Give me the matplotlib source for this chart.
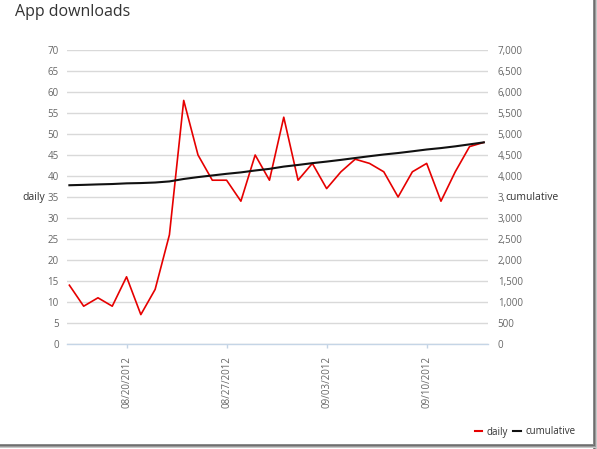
import matplotlib
matplotlib.use("Agg")
import matplotlib.pyplot as plt
import matplotlib.dates as mdates
from matplotlib.lines import Line2D
from matplotlib.patches import Rectangle
import pandas as pd

plt.rcParams["font.family"] = ["Open Sans", "DejaVu Sans"]

# data
dates = pd.date_range("2012-08-16", "2012-09-14", freq="D")
daily = [14, 9, 11, 9, 16, 7, 13, 26, 58, 45, 39, 39, 34, 45, 39,
         54, 39, 43, 37, 41, 44, 43, 41, 35, 41, 43, 34, 41, 47, 48]
cumulative = [3780, 3789, 3800, 3809, 3825, 3832, 3845, 3871, 3929, 3974,
              4013, 4052, 4086, 4131, 4170, 4224, 4263, 4306, 4343, 4384,
              4428, 4471, 4512, 4547, 4588, 4631, 4665, 4706, 4753, 4801]
tick_dates = pd.to_datetime(["2012-08-20", "2012-08-27", "2012-09-03", "2012-09-10"])
left_ticks = list(range(0, 75, 5))
right_ticks = list(range(0, 7500, 500))

W, H = 597, 449
fig = plt.figure(figsize=(W / 100, H / 100), dpi=100)
ax = fig.add_axes([67 / W, 1 - 344 / H, (488 - 67) / W, (344 - 50) / H])

label_col = "#666666"
grid_col = "#d9d9d9"

ax.plot(dates, daily, color="#e60000", linewidth=1.2, zorder=3)
ax.set_ylim(0, 70)
ax.set_yticks(left_ticks)
ax.grid(axis="y", color=grid_col, linewidth=1.0)
ax.set_axisbelow(True)
for s in ["top", "right", "left"]:
    ax.spines[s].set_visible(False)
ax.spines["bottom"].set_color("#c5d5e6")
ax.spines["bottom"].set_linewidth(1.0)
ax.tick_params(axis="y", length=0, pad=6, labelsize=7, labelcolor=label_col)
ax.tick_params(axis="x", length=3, width=1, color="#c5d5e6", pad=6,
               labelsize=7, labelcolor=label_col)
ax.set_xticks(tick_dates)
ax.xaxis.set_major_formatter(mdates.DateFormatter("%m/%d/%Y"))
for lbl in ax.get_xticklabels():
    lbl.set_rotation(90)
    lbl.set_va("top")
ax.set_xlim(dates[0] - pd.Timedelta(hours=4), dates[-1] + pd.Timedelta(hours=7))

ax2 = ax.twinx()
ax2.plot(dates, cumulative, color="#111111", linewidth=1.5, zorder=4)
ax2.set_ylim(0, 7000)
ax2.set_yticks(right_ticks)
ax2.set_yticklabels([f"{v:,}" for v in right_ticks])
for s in ["top", "right", "left", "bottom"]:
    ax2.spines[s].set_visible(False)
ax2.tick_params(axis="y", length=0, pad=7, labelsize=7, labelcolor=label_col)

fig.text(15 / W, 1 - 12 / H, "App downloads", fontsize=11.5, color="#333333",
         va="center", ha="left")
fig.text(22 / W, 1 - 198 / H, "daily", fontsize=7.5, color="#333333",
         va="center", ha="left")
fig.text(505 / W, 1 - 198 / H, "cumulative", fontsize=7.5, color="#333333",
         va="center", ha="left",
         bbox=dict(facecolor="white", edgecolor="none", pad=0.5))

handles = [Line2D([], [], color="#e60000", linewidth=1.5),
           Line2D([], [], color="#111111", linewidth=1.5)]
fig.legend(handles, ["daily", "cumulative"], loc="center right",
           bbox_to_anchor=(584 / W, 1 - 432 / H), ncol=2, frameon=False,
           fontsize=7, handlelength=0.8, handletextpad=0.4, columnspacing=0.6,
           labelcolor="#333333")

# screenshot shadow on right and bottom edges
shades = ["#8a8a8a", "#6e6e6e", "#9a9a9a", "#c8c8c8"]
for i, c in enumerate(shades):
    fig.patches.append(Rectangle(((593 + i) / W, 0), 1 / W, 1, transform=fig.transFigure,
                                 facecolor=c, edgecolor="none"))
    fig.patches.append(Rectangle((0, (4 - i) / H), 597 / W, 1 / H, transform=fig.transFigure,
                                 facecolor=c, edgecolor="none"))

fig.savefig("out.png", dpi=100)
